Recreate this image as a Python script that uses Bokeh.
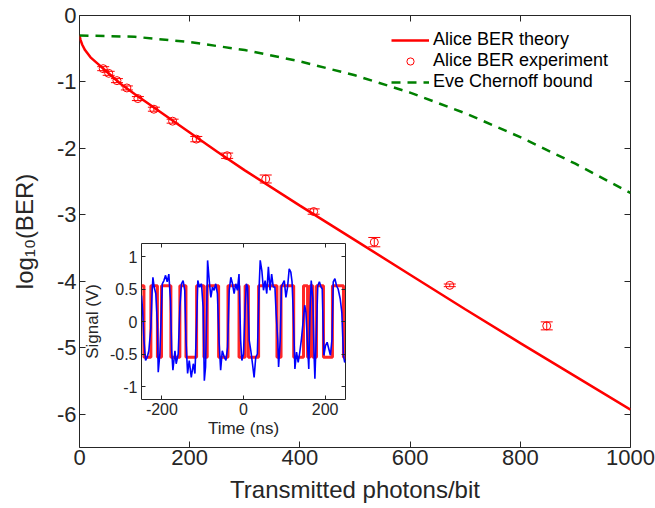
from bokeh.plotting import figure
from bokeh.models import (LinearAxis, FixedTicker, Whisker, TeeHead, ColumnDataSource,
                          Legend, LegendItem, Range1d)
from bokeh.layouts import column
from bokeh.embed import file_html
from bokeh.resources import INLINE

# ---------------- data ----------------
theory_photons = [0, 2, 5, 10, 20, 35, 50, 75, 100, 150, 200, 250, 300, 400, 500, 600, 700, 800, 900, 1000]
theory_log_ber = [-0.30, -0.37, -0.44, -0.52, -0.63, -0.74, -0.85, -1.03, -1.18, -1.47, -1.76, -2.05,
                  -2.33, -2.86, -3.38, -3.90, -4.42, -4.93, -5.43, -5.93]

exp_photons = [43, 53, 68, 86, 106, 135, 169, 212, 268, 338, 425, 535, 672, 848]
exp_log_ber = [-0.80, -0.87, -0.98, -1.09, -1.25, -1.41, -1.59, -1.86, -2.11, -2.46, -2.95, -3.41, -4.06, -4.67]
exp_err = [0.03, 0.03, 0.03, 0.03, 0.03, 0.03, 0.03, 0.04, 0.04, 0.06, 0.04, 0.07, 0.02, 0.06]

eve_photons = [0, 100, 200, 300, 400, 500, 600, 700, 800, 900, 1000]
eve_log_ber = [-0.30, -0.32, -0.40, -0.52, -0.69, -0.90, -1.16, -1.47, -1.83, -2.23, -2.67]

x_ticks = [0, 200, 400, 600, 800, 1000]
x_tick_labels = ["0", "200", "400", "600", "800", "1000"]
y_ticks = [0, -1, -2, -3, -4, -5, -6]
y_tick_labels = ["0", "-1", "-2", "-3", "-4", "-5", "-6"]

# inset: ideal (red) and measured (blue) signal
red_times = [-250, -244, -227, -211, -201, -178, -156, -141, -115, -97, -89, -61, -38, -11, 4, 12, 37,
             82, 92, 123, 147, 157, 163, 170, 179, 196, 218, 245, 250]
red_volts = [0.55, -0.55, 0.55, -0.55, 0.55, -0.55, 0.55, -0.55, 0.55, -0.55, 0.55, -0.55, 0.55, -0.55,
             0.55, -0.55, 0.55, -0.55, 0.55, -0.55, 0.55, -0.55, 0.55, -0.55, 0.55, -0.55, 0.55, -0.55, -0.55]

blue_times = [-250, -247, -244, -240, -236, -232, -227, -224, -222, -219, -215, -211, -209, -205, -201,
              -199, -195, -191, -187, -183, -179, -176, -173, -168, -165, -160, -156, -152, -148, -144,
              -141, -137, -133, -128, -123, -119, -115, -112, -108, -103, -99, -96, -93, -90, -88, -84,
              -80, -76, -72, -68, -64, -60, -56, -52, -47, -43, -39, -35, -31, -27, -23, -19, -15, -11,
              -7, -4, 0, 4, 7, 10, 14, 18, 22, 26, 30, 34, 38, 41, 45, 49, 53, 57, 61, 65, 69, 73, 77,
              80, 84, 86, 90, 93, 96, 100, 104, 108, 112, 116, 119, 122, 126, 130, 134, 138, 142, 146,
              150, 153, 157, 160, 163, 166, 170, 173, 175, 179, 182, 186, 190, 193, 197, 201, 205, 209,
              213, 217, 220, 224, 228, 232, 237, 241, 245, 248, 250]
blue_volts = [0.40, 0.15, -0.29, -0.60, -0.55, -0.45, -0.09, 0.45, 0.68, 0.53, 0.43, -0.04, -0.78, -0.50, 0.22,
              0.58, 0.63, 0.71, 0.61, 0.73, 0.32, -0.45, -0.75, -0.45, -0.65, -0.50, 0.22, 0.58, 0.63, 0.48,
              -0.29, -0.80, -0.60, -0.86, -0.65, -0.80, -0.04, 0.63, 0.53, 0.58, 0.22, -0.91, -0.70, 0.22, 0.94, 0.63,
              0.37, 0.53, 0.48, 0.58, 0.43, -0.29, -0.75, -0.45, -0.55, -0.60, -0.39, 0.48, 0.68, 0.58, 0.43, 0.58, 0.48, 0.73,
              -0.29, -0.60, -0.50, 0.22, 0.58, 0.53, -0.29, -0.45, -0.65, -0.86, -0.55, -0.50, 0.48, 0.94, 0.78, 0.48, 0.63, 0.43, 0.84, 0.48, 0.73, 0.53, 0.53,
              0.12, -0.29, -0.70, -0.29, 0.53, 0.58, 0.63, 0.37, 0.53, 0.81, 0.76, 0.61, 0.14, -0.73, -0.47, -0.63, -0.47, -0.27, -0.01,
              0.25, 0.14, -0.37, -0.73, 0.14, 0.63, 0.35, -0.52, -0.88, -0.11, 0.55, 0.61, 0.53, 0.50, -0.52, -0.37, -0.32, -0.42,
              -0.52, -0.27, 0.61, 0.66, 0.55, 0.50, 0.35, 0.14, -0.52, -0.63, -0.60]

inset_x_ticks = [-200, 0, 200]
inset_x_tick_labels = ["-200", "0", "200"]
inset_y_ticks = [-1, -0.5, 0, 0.5, 1]
inset_y_tick_labels = ["-1", "-0.5", "0", "0.5", "1"]

# ---------------- styling ----------------
AX = "#262626"
FONT = "Liberation Sans"


def box_axes(fig, bottom, left, xt, yt, tick_len):
    """Add tick-only axes on top and right so the frame is boxed like the original."""
    top = LinearAxis(ticker=FixedTicker(ticks=xt), major_label_overrides={t: "" for t in xt})
    right = LinearAxis(ticker=FixedTicker(ticks=yt), major_label_overrides={t: "" for t in yt})
    for a in (top, right):
        a.major_label_text_font_size = "0px"
        a.major_label_standoff = 0
    fig.add_layout(top, "above")
    fig.add_layout(right, "right")
    for a in (bottom, left, top, right):
        a.axis_line_color = None
        a.major_tick_in = tick_len
        a.major_tick_out = 0
        a.minor_tick_in = 0
        a.minor_tick_out = 0
        a.major_tick_line_color = AX
        a.major_tick_line_width = 1
        a.minor_tick_line_color = None


p = figure(frame_width=551, frame_height=432, x_range=Range1d(0, 1000), y_range=Range1d(-6.5, 0),
           output_backend="svg", toolbar_location=None,
           min_border_left=79, min_border_right=25, min_border_top=15, min_border_bottom=55)
p.grid.visible = False
p.outline_line_color = AX
p.outline_line_width = 1
p.background_fill_color = "white"
p.border_fill_color = "white"

bx = p.below[0]
ly = p.left[0]
bx.ticker = FixedTicker(ticks=x_ticks)
ly.ticker = FixedTicker(ticks=y_ticks)
bx.major_label_overrides = dict(zip(x_ticks, x_tick_labels))
ly.major_label_overrides = dict(zip(y_ticks, y_tick_labels))
box_axes(p, bx, ly, x_ticks, y_ticks, 6)
for a in (bx, ly):
    a.major_label_text_font = FONT
    a.major_label_text_font_size = "22px"
    a.major_label_text_color = AX
    a.axis_label_text_font = FONT
    a.axis_label_text_font_size = "24px"
    a.axis_label_text_font_style = "normal"
    a.axis_label_text_color = AX
bx.major_label_standoff = 2
bx.axis_label_standoff = 8
bx.axis_label = "Transmitted photons/bit"
ly.major_label_standoff = 3
ly.axis_label_standoff = 16
ly.axis_label = "log\u2081\u2080(BER)"

r_theory = p.line(theory_photons, theory_log_ber, line_color="#FF0000", line_width=2.5)
r_eve = p.line(eve_photons, eve_log_ber, line_color="#008000", line_width=2.5, line_dash="9 7")

src = ColumnDataSource(dict(x=exp_photons, y=exp_log_ber,
                            lower=[y - e for y, e in zip(exp_log_ber, exp_err)],
                            upper=[y + e for y, e in zip(exp_log_ber, exp_err)]))
wh = Whisker(base="x", lower="lower", upper="upper", source=src, dimension="height",
             line_color="#FF0000", line_width=1,
             upper_head=TeeHead(size=12, line_color="#FF0000", line_width=1),
             lower_head=TeeHead(size=12, line_color="#FF0000", line_width=1))
p.add_layout(wh)
r_exp = p.scatter("x", "y", source=src, marker="circle", size=8, fill_color=None,
                  line_color="#FF0000", line_width=1)

legend = Legend(items=[LegendItem(label="Alice BER theory", renderers=[r_theory]),
                       LegendItem(label="Alice BER experiment", renderers=[r_exp]),
                       LegendItem(label="Eve Chernoff bound", renderers=[r_eve])],
                location=(308, 351), background_fill_alpha=0, border_line_alpha=0,
                label_text_font=FONT, label_text_font_size="18px", label_text_color="#000000",
                glyph_width=38, glyph_height=18, label_height=20, spacing=0, padding=4, margin=0,
                label_standoff=4)
p.add_layout(legend)

# ---------------- inset ----------------
# (the column aligns the left/right borders of its plots with the main figure: 79 px / 25 px)
inset = figure(frame_width=204, frame_height=156, x_range=Range1d(-250, 250), y_range=Range1d(-1.2, 1.2),
               output_backend="svg", toolbar_location=None,
               min_border_left=79, min_border_right=6, min_border_top=12, min_border_bottom=30)
inset.grid.visible = False
inset.outline_line_color = AX
inset.outline_line_width = 1
inset.background_fill_color = "white"
inset.border_fill_alpha = 0
ibx = inset.below[0]
ily = inset.left[0]
ibx.ticker = FixedTicker(ticks=inset_x_ticks)
ily.ticker = FixedTicker(ticks=inset_y_ticks)
ibx.major_label_overrides = dict(zip(inset_x_ticks, inset_x_tick_labels))
ily.major_label_overrides = dict(zip(inset_y_ticks, inset_y_tick_labels))
box_axes(inset, ibx, ily, inset_x_ticks, inset_y_ticks, 4)
for a in (ibx, ily):
    a.major_label_text_font = FONT
    a.major_label_text_font_size = "16px"
    a.major_label_text_color = AX
    a.axis_label_text_font = FONT
    a.axis_label_text_font_size = "17px"
    a.axis_label_text_font_style = "normal"
    a.axis_label_text_color = AX
ibx.axis_label = "Time (ns)"
ily.axis_label = "Signal (V)"
ibx.major_label_standoff = 3
ibx.axis_label_standoff = 1
ily.major_label_standoff = 4
ily.axis_label_standoff = 5

inset.step(red_times, red_volts, mode="after", line_color="#FF0000", line_width=3, line_alpha=0.85)
inset.line(blue_times, blue_volts, line_color="#0000FF", line_width=1.6)

inset.styles = {"position": "absolute", "left": "62px", "top": "231px", "z-index": "5"}

layout = column(p, inset)
open("out.html", "w").write(file_html(layout, INLINE))
